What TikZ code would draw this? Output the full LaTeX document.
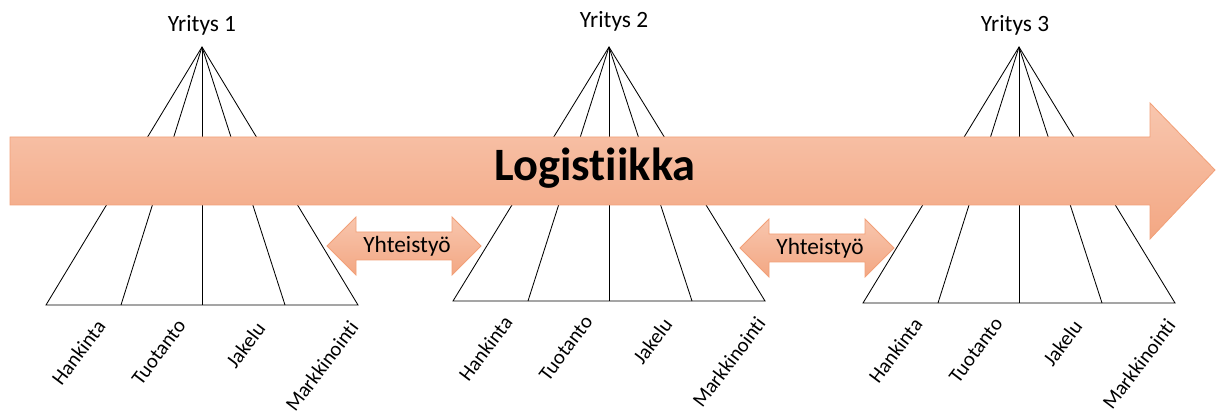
\documentclass[tikz,border=0pt]{standalone}
\usepackage{fontspec}
\setmainfont{Carlito}[Ligatures=NoCommon]
\usetikzlibrary{calc}
\definecolor{arrtop}{RGB}{248,198,174}
\definecolor{arrbot}{RGB}{243,167,131}
\definecolor{arredge}{RGB}{242,160,120}

\begin{document}
\begin{tikzpicture}[x=0.025cm, y=-0.025cm,
    flow/.style = {draw=arredge, line width=0.6pt, top color=arrtop, bottom color=arrbot},
    wedge/.style = {draw, line width=0.6pt},
    firm/.style = {anchor=base, font=\fontsize{16.6}{20}\selectfont},
    part/.style = {rotate=53, anchor=north east, inner sep=0pt, font=\fontsize{14.6}{17}\selectfont}]
    \useasboundingbox (0,0) rectangle (1216,412);
    % yritykset
    \foreach \n/\xa/\yb/\xt/\yt in {1/202/305/202/32, 2/609/301/614/28, 3/1019/303/1015/32}{
        \coordinate (apex\n) at (\xa,47);
        \node[firm] (firm\n) at (\xt,\yt) {Yritys \n};
        \coordinate (b\n-1) at (\xa-156,\yb);
        \coordinate (b\n-2) at (\xa-81,\yb);
        \coordinate (b\n-3) at (\xa,\yb);
        \coordinate (b\n-4) at (\xa+83,\yb);
        \coordinate (b\n-5) at (\xa+156,\yb);
        \path[wedge] (b\n-1) -- (apex\n) -- (b\n-5) -- cycle;
        \path[wedge] (apex\n) -- (b\n-2);
        \path[wedge] (apex\n) -- (b\n-4);
        \path[draw, line width=0.4pt] (apex\n) -- (b\n-3);
        % toiminnot
        \node[part] (hank\n) at (\xa-107,\yb+13) {Hankinta};
        \node[part] (tuot\n) at (\xa-26,\yb+13) {Tuotanto};
        \node[part] (jake\n) at (\xa+53,\yb+15) {Jakelu};
        \node[part] (mark\n) at (\xa+146,\yb+14) {Markkinointi};
    }
    % logistiikka
    \path[flow] (10,137) -- (1150,137) -- (1150,103) -- (1215,170) -- (1150,239)
        -- (1150,205) -- (10,205) -- cycle;
    \node[anchor=base, font=\fontsize{33}{40}\selectfont\bfseries] (logi) at (595,181) {Logistiikka};
    % yhteistyo
    \foreach \m/\xl/\yc in {1/327/246, 2/740/248}{
        \path[flow] (\xl,\yc) -- (\xl+29,\yc-29) -- (\xl+29,\yc-14) -- (\xl+125,\yc-14)
            -- (\xl+125,\yc-29) -- (\xl+154,\yc) -- (\xl+125,\yc+29) -- (\xl+125,\yc+14)
            -- (\xl+29,\yc+14) -- (\xl+29,\yc+29) -- cycle;
        \node[firm] (coop\m) at (\xl+80,\yc+7) {Yhteistyö};
    }
\end{tikzpicture}
\end{document}
